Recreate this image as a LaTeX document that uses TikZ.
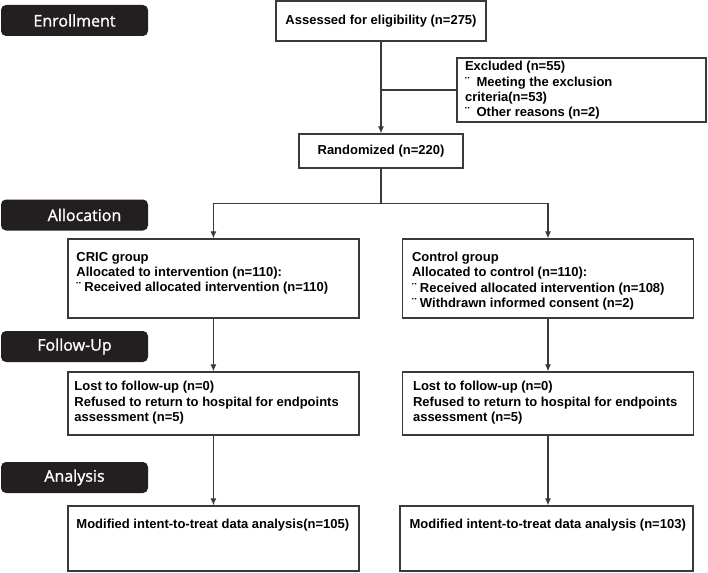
\documentclass[tikz,border=0pt]{standalone}
\usepackage{fontspec}
\setmainfont{Liberation Sans}
\newfontfamily\stagefont{Open Sans}[FakeBold=1.2]
\usetikzlibrary{arrows.meta,calc}

\definecolor{linegray}{HTML}{3A3A3A}
\definecolor{stageblack}{HTML}{231F20}

\tikzset{
    stage/.style={fill=stageblack, rounded corners=5pt, text=white, minimum width=147pt,
        minimum height=31pt, inner sep=0pt, font=\stagefont\fontsize{16}{18}\selectfont},
    box/.style={draw=linegray, line width=1.3pt, inner sep=0pt,
        font=\bfseries\fontsize{13}{15}\selectfont},
    txt/.style={anchor=north west, inner sep=0pt, align=left,
        font=\bfseries\fontsize{13}{15.3}\selectfont},
    flow/.style={draw=linegray, line width=1.1pt},
    >={Latex[length=7pt,width=6pt]}
}

\begin{document}
\begin{tikzpicture}[x=1pt,y=-1pt]
    \useasboundingbox (0,0) rectangle (708,572);

    % Stage labels on the left
    \node[stage] (enroll) at (74.5,20.5) {Enrollment};
    \node[stage] (alloc) at (74.5,215) {\hspace*{20pt}Allocation};
    \node[stage] (follow) at (74.5,346.5) {Follow-Up};
    \node[stage] (analysis) at (74.5,477.5) {Analysis};

    % Enrollment
    \node[box, minimum width=210pt, minimum height=40pt] (assessed) at (381,21) {Assessed for eligibility (n=275)};
    \node[box, minimum width=249pt, minimum height=64pt] (excluded) at (581.5,90) {};
    \node[txt] at ([shift={(8.5,4)}]excluded.north west)
        {Excluded (n=55)\\¨\ \ Meeting the exclusion\\criteria(n=53)\\¨\ \ Other reasons (n=2)};
    \node[box, minimum width=164pt, minimum height=34pt] (randomized) at (381,151) {Randomized (n=220)};

    % Allocation
    \node[box, minimum width=291pt, minimum height=79pt] (cric) at (213.4,278.5) {};
    \node[txt] at ([shift={(9,13.5)}]cric.north west)
        {CRIC group\\Allocated to intervention (n=110):\\¨ Received allocated intervention (n=110)};
    \node[box, minimum width=291pt, minimum height=79pt] (control) at (548,278.5) {};
    \node[txt] at ([shift={(10,13.5)}]control.north west)
        {Control group\\Allocated to control (n=110):\\¨ Received allocated intervention (n=108)\\¨ Withdrawn informed consent (n=2)};

    % Follow-up
    \node[box, minimum width=291pt, minimum height=63pt] (lostL) at (213.4,403.5) {};
    \node[txt] at ([shift={(7,10)}]lostL.north west)
        {Lost to follow-up (n=0)\\Refused to return to hospital for endpoints\\assessment (n=5)};
    \node[box, minimum width=291pt, minimum height=63pt] (lostR) at (548,403.5) {};
    \node[txt] at ([shift={(11,10)}]lostR.north west)
        {Lost to follow-up (n=0)\\Refused to return to hospital for endpoints\\assessment (n=5)};

    % Analysis
    \node[box, minimum width=291pt, minimum height=65pt] (finalL) at (213.4,538.5) {};
    \node[txt] at ([shift={(9,14)}]finalL.north west) {Modified intent-to-treat data analysis(n=105)};
    \node[box, minimum width=293pt, minimum height=65pt] (finalR) at (546.5,538.5) {};
    \node[txt] at ([shift={(10,14)}]finalR.north west) {Modified intent-to-treat data analysis (n=103)};

    % Connectors
    \draw[flow,->] (assessed.south) -- (randomized.north);
    \draw[flow] (assessed.south |- excluded.west) -- (excluded.west);
    \draw[flow] (randomized.south) -- ++(0,35) coordinate (split);
    \draw[flow,->] (split) -| (cric.north);
    \draw[flow,->] (split) -| (control.north);
    \draw[flow,->] (cric) -- (lostL);
    \draw[flow,->] (control) -- (lostR);
    \draw[flow,->] (lostL) -- (finalL);
    \draw[flow,->] (lostR.south) -- (lostR.south |- finalR.north);
\end{tikzpicture}
\end{document}
